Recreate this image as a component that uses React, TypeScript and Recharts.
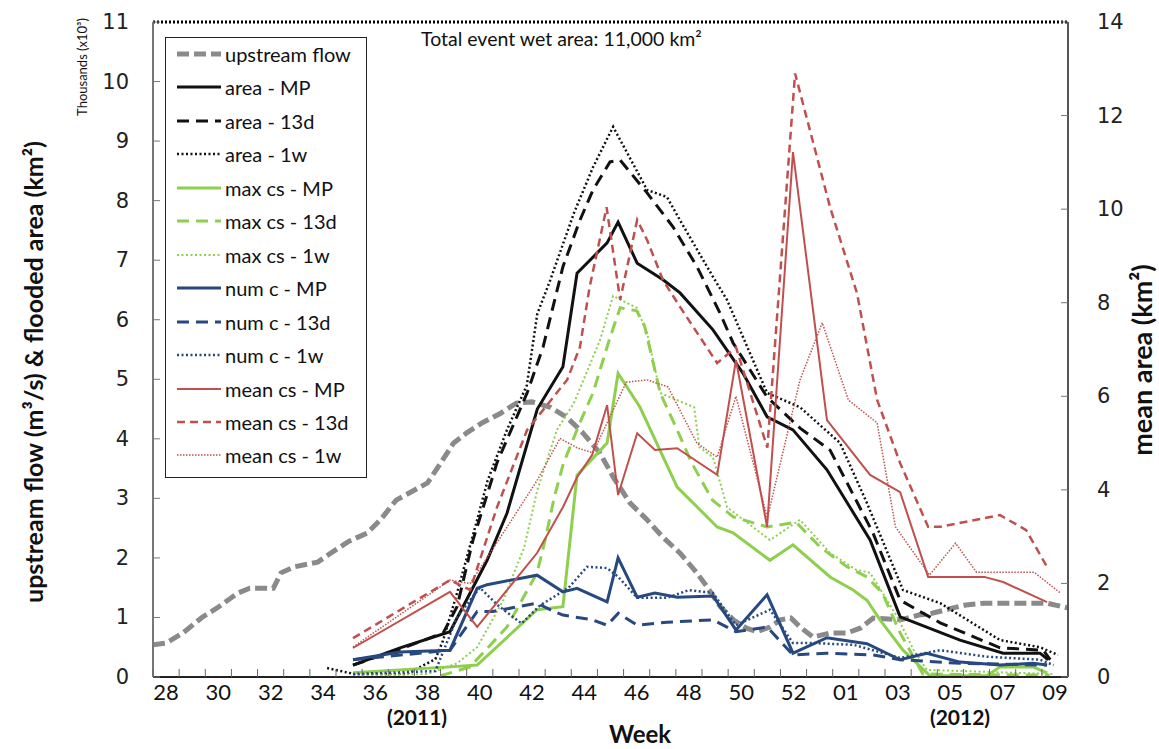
import React from 'react';
import { LineChart, Line, XAxis, YAxis, ReferenceLine } from 'recharts';

// x is counted in weeks: 0 = week 28 (2011) ... 34 = week 09 (2012)
const weekTicks = [0, 2, 4, 6, 8, 10, 12, 14, 16, 18, 20, 22, 24, 26, 28, 30, 32, 34];
const weekLabels = ['28', '30', '32', '34', '36', '38', '40', '42', '44', '46', '48', '50', '52', '01', '03', '05', '07', '09'];
const weekMarks = Array.from({ length: 35 }, (_, i) => i);
const leftTicks = [0, 1, 2, 3, 4, 5, 6, 7, 8, 9, 10, 11];
const rightTicks = [0, 2, 4, 6, 8, 10, 12, 14];
const totalWetArea = 11; // thousands km2

// [week, value] — left axis in thousands, mean cs on the right axis (km2)
const upstreamFlow = [[-0.5, 0.54], [0, 0.57], [0.65, 0.74], [1.37, 1.0], [1.95, 1.16], [2.75, 1.41], [3.2, 1.49], [4.1, 1.49], [4.4, 1.75], [4.9, 1.85], [5.8, 1.93], [6.3, 2.08], [7, 2.28], [7.7, 2.42], [8.2, 2.64], [8.8, 2.97], [9.3, 3.09], [10, 3.26], [10.5, 3.59], [11, 3.93], [11.5, 4.1], [12.1, 4.27], [12.8, 4.43], [13.4, 4.6], [14, 4.62], [14.7, 4.53], [15.3, 4.37], [15.9, 4.12], [16.6, 3.76], [17.1, 3.36], [17.75, 2.92], [18.4, 2.64], [19, 2.35], [19.66, 2.08], [20.3, 1.75], [20.7, 1.51], [21.2, 1.18], [21.7, 0.96], [22.2, 0.82], [22.6, 0.76], [23.1, 0.84], [23.5, 0.96], [23.9, 0.99], [24.25, 0.84], [24.75, 0.67], [25.4, 0.74], [26.05, 0.74], [26.55, 0.82], [27.05, 0.99], [28.1, 0.96], [28.8, 1.04], [29.3, 1.07], [30.1, 1.16], [30.6, 1.21], [31.3, 1.24], [33.7, 1.24], [34.5, 1.16]];

const areaMP = [[7.15, 0.2], [8.95, 0.49], [10.86, 0.76], [12.28, 1.96], [13.04, 2.75], [14.2, 4.5], [15.18, 5.21], [15.72, 6.78], [16.87, 7.29], [17.29, 7.64], [18.02, 6.95], [19.01, 6.67], [19.66, 6.45], [20.92, 5.83], [22.07, 5.1], [22.99, 4.37], [23.98, 4.15], [25.28, 3.48], [26.93, 2.3], [28.08, 1.01], [30.37, 0.62], [32.02, 0.4], [33.43, 0.4], [33.74, 0.29]];
const area13d = [[7.15, 0.2], [8.95, 0.47], [10.6, 0.74], [11.13, 1.18], [11.74, 2.3], [12.66, 3.6], [13.81, 4.77], [14.42, 5.54], [15.18, 6.89], [15.83, 7.67], [16.33, 8.18], [16.98, 8.65], [17.37, 8.68], [18.4, 8.13], [19.39, 7.56], [20.31, 6.89], [21.19, 6.11], [21.69, 5.61], [22.99, 4.7], [24.25, 4.18], [25.4, 3.81], [26.05, 3.26], [27.04, 2.42], [28.08, 1.29], [29.61, 0.91], [31.9, 0.49], [33.55, 0.45], [33.82, 0.29]];
const area1w = [[6.16, 0.15], [7.2, 0.05], [9.2, 0.05], [10.3, 0.3], [10.6, 0.62], [11.13, 1.41], [11.9, 2.64], [12.3, 3.3], [13.04, 4.15], [13.8, 4.9], [14.2, 6.1], [14.7, 6.67], [15.6, 7.79], [16.33, 8.56], [17.1, 9.24], [18.4, 8.18], [19.16, 8.06], [19.66, 7.67], [20.92, 6.72], [21.46, 6.33], [22.99, 4.77], [24.25, 4.53], [25.78, 3.93], [26.81, 2.92], [28.19, 1.46], [29.61, 1.24], [31.9, 0.62], [33.43, 0.5], [34.12, 0.37]];

const maxcsMP = [[7.15, 0.07], [10.86, 0.17], [11.9, 0.2], [14.19, 1.13], [15.18, 1.18], [15.72, 3.39], [16.87, 3.93], [17.29, 5.1], [18.13, 4.53], [19.55, 3.19], [21.08, 2.52], [21.69, 2.42], [23.1, 1.96], [23.98, 2.22], [25.4, 1.68], [26.28, 1.46], [26.81, 1.29], [27.31, 0.96], [28.19, 0.45], [29.22, 0.02], [31.4, 0.02], [31.9, 0.17], [33.16, 0.17], [33.7, 0.07]];
const maxcs13d = [[10.5, 0.02], [11.63, 0.17], [13.04, 0.84], [14.19, 1.75], [14.5, 2.3], [14.85, 3.02], [15.2, 3.59], [15.83, 4.27], [16.33, 4.77], [16.98, 5.7], [17.37, 6.2], [18.0, 6.15], [18.3, 5.9], [18.9, 4.77], [19.6, 4.1], [20.1, 3.6], [20.9, 2.97], [21.7, 2.69], [22.99, 2.52], [24.1, 2.6], [25.02, 2.18], [26.05, 1.85], [26.81, 1.68], [27.4, 1.41], [28.08, 0.74], [28.95, 0.05], [33.8, 0.03]];
const maxcs1w = [[7.15, 0.03], [10.0, 0.05], [11.13, 0.23], [11.9, 0.5], [12.9, 1.29], [13.7, 2.18], [14.2, 3.14], [14.95, 4.15], [15.6, 4.6], [16.6, 5.66], [17.1, 6.4], [18.0, 6.2], [18.4, 5.78], [18.9, 4.77], [19.55, 4.65], [20.2, 4.53], [20.4, 3.86], [20.92, 3.69], [21.46, 2.85], [23.1, 2.3], [24.25, 2.64], [25.4, 2.08], [26.4, 1.8], [26.93, 1.75], [27.97, 1.01], [28.6, 0.45], [29.1, 0.12], [33.9, 0.05]];

const numcMP = [[7.15, 0.29], [8.95, 0.42], [10.86, 0.45], [11.9, 1.49], [12.28, 1.55], [14.19, 1.71], [15.18, 1.43], [15.72, 1.49], [16.87, 1.26], [17.29, 2.0], [18.02, 1.34], [18.7, 1.41], [19.55, 1.34], [20.92, 1.36], [21.8, 0.79], [22.99, 1.38], [23.98, 0.4], [25.28, 0.66], [26.81, 0.56], [28.08, 0.29], [29.1, 0.4], [30.37, 0.25], [31.9, 0.2], [33.16, 0.23], [33.7, 0.2]];
const numc13d = [[7.15, 0.29], [10.86, 0.45], [11.9, 1.1], [12.5, 1.1], [14.19, 1.24], [14.69, 1.13], [15.18, 1.04], [16.3, 0.96], [16.87, 0.87], [17.3, 1.07], [18.02, 0.87], [19.16, 0.92], [20.92, 0.96], [21.8, 0.76], [22.99, 0.84], [23.98, 0.37], [25.28, 0.4], [27.04, 0.37], [28.08, 0.29], [30.37, 0.23], [33.7, 0.2]];
const numc1w = [[7.15, 0.05], [10.3, 0.1], [11.13, 1.0], [12.0, 1.5], [12.7, 1.2], [13.6, 0.9], [14.3, 1.2], [15.4, 1.5], [16.1, 1.85], [16.87, 1.83], [17.3, 1.68], [18.02, 1.33], [19.16, 1.33], [20.0, 1.46], [20.92, 1.41], [21.8, 0.87], [23.1, 1.13], [23.98, 0.57], [24.75, 0.57], [26.3, 0.54], [27.04, 0.45], [28.08, 0.32], [29.61, 0.45], [31.4, 0.34], [33.43, 0.29], [33.95, 0.2]];

const meancsMP = [[7.15, 0.62], [10.86, 1.82], [11.9, 1.07], [14.19, 2.65], [15.18, 3.63], [15.72, 4.27], [16.3, 4.75], [16.87, 5.81], [17.29, 3.89], [18.02, 5.21], [18.7, 4.85], [19.55, 4.89], [21.08, 4.32], [21.8, 6.77], [22.99, 3.21], [23.98, 11.22], [25.28, 5.49], [26.93, 4.32], [28.08, 3.95], [29.15, 2.14], [31.3, 2.14], [32.02, 2.03], [33.7, 1.6]];
const meancs13d = [[7.15, 0.83], [10.86, 2.07], [11.63, 1.86], [12.66, 3.63], [13.81, 5.28], [15.34, 6.35], [15.83, 7.05], [16.2, 8.33], [16.85, 10.04], [17.37, 8.06], [18.02, 9.77], [18.4, 9.34], [19.01, 8.48], [19.66, 7.91], [21.08, 6.71], [21.8, 7.05], [23.0, 4.9], [24.06, 12.9], [25.4, 10.04], [26.43, 8.2], [27.2, 5.92], [28.08, 4.57], [29.15, 3.21], [29.61, 3.21], [31.9, 3.46], [32.9, 3.14], [33.7, 2.35]];
const meancs1w = [[7.15, 0.64], [10.86, 2.07], [11.63, 2.0], [13.04, 3.2], [14.19, 4.2], [15.07, 5.1], [15.72, 4.9], [16.33, 4.79], [17.6, 6.3], [18.4, 6.35], [19.2, 6.2], [20.3, 5.0], [21.08, 4.7], [21.8, 6.0], [23.0, 3.4], [24.25, 6.35], [25.1, 7.57], [26.1, 5.92], [27.2, 5.43], [27.9, 3.21], [29.2, 2.18], [30.2, 2.86], [31.0, 2.24], [33.2, 2.24], [34.2, 1.8]];

const pts = (a: number[][]) => a.map(([t, v]) => ({ t, v }));

const BLACK = '#111';
const GREEN = '#8fcf4e';
const BLUE = '#27497f';
const RED = '#c0504d';
const GREY = '#8a8a8a';

const series = [
  { key: 'flow', name: 'upstream flow', data: upstreamFlow, axis: 'l', color: GREY, width: 5, dash: '12 5' },
  { key: 'aMP', name: 'area - MP', data: areaMP, axis: 'l', color: BLACK, width: 3, dash: undefined },
  { key: 'a13', name: 'area - 13d', data: area13d, axis: 'l', color: BLACK, width: 3, dash: '12 7' },
  { key: 'a1w', name: 'area - 1w', data: area1w, axis: 'l', color: BLACK, width: 2.5, dash: '2 2.5' },
  { key: 'mMP', name: 'max cs - MP', data: maxcsMP, axis: 'l', color: GREEN, width: 3, dash: undefined },
  { key: 'm13', name: 'max cs - 13d', data: maxcs13d, axis: 'l', color: GREEN, width: 3, dash: '12 7' },
  { key: 'm1w', name: 'max cs - 1w', data: maxcs1w, axis: 'l', color: GREEN, width: 2, dash: '2 2.5' },
  { key: 'nMP', name: 'num c - MP', data: numcMP, axis: 'l', color: BLUE, width: 3, dash: undefined },
  { key: 'n13', name: 'num c - 13d', data: numc13d, axis: 'l', color: BLUE, width: 3, dash: '12 7' },
  { key: 'n1w', name: 'num c - 1w', data: numc1w, axis: 'l', color: BLUE, width: 2.5, dash: '2 2.5' },
  { key: 'cMP', name: 'mean cs - MP', data: meancsMP, axis: 'r', color: RED, width: 2, dash: undefined },
  { key: 'c13', name: 'mean cs - 13d', data: meancs13d, axis: 'r', color: RED, width: 2.5, dash: '8 5' },
  { key: 'c1w', name: 'mean cs - 1w', data: meancs1w, axis: 'r', color: RED, width: 1.5, dash: '1.5 1.5' },
];

const W = 1159;
const H = 749;
const M = { top: 22, right: 31, bottom: 42, left: 93 };
const YW = 60;
const plotW = W - M.left - M.right - 2 * YW;
const half = plotW / 35 / 2;

const tickFont = { fontFamily: 'DejaVu Sans', fontSize: 21, fill: '#222' };

function XTick(props: any) {
  const { x, y, payload } = props;
  const i = weekTicks.indexOf(payload.value);
  return (
    <g>
      <line x1={x - half} x2={x - half} y1={y} y2={y - 8} stroke="#666" strokeWidth={1} />
      {i >= 0 && (
        <text x={x} y={y + 14} textAnchor="middle" dominantBaseline="central"
          style={{ fontFamily: 'Liberation Sans Narrow, Lato', fontSize: 22, fill: '#111' }}>
          {weekLabels[i]}
        </text>
      )}
    </g>
  );
}

function LeftTick(props: any) {
  const { x, y, payload } = props;
  return (
    <g>
      <line x1={x} x2={x + 7} y1={y} y2={y} stroke="#777" />
      <text x={x - 24} y={y} textAnchor="end" dominantBaseline="central" style={tickFont}>{payload.value}</text>
    </g>
  );
}

function RightTick(props: any) {
  const { x, y, payload } = props;
  return (
    <g>
      <line x1={x} x2={x - 7} y1={y} y2={y} stroke="#777" />
      <text x={x + 29} y={y} textAnchor="start" dominantBaseline="central" style={tickFont}>{payload.value}</text>
    </g>
  );
}

function VText({ x, y, size, bold, children }: any) {
  return (
    <div style={{
      position: 'absolute', left: x, top: y, transform: 'translate(-50%, -50%) rotate(-90deg)',
      whiteSpace: 'nowrap', fontSize: size, fontWeight: bold ? 700 : 400, color: '#111', lineHeight: 1.1,
    }}>{children}</div>
  );
}

function HText({ x, y, size, bold, children }: any) {
  return (
    <div style={{
      position: 'absolute', left: x, top: y, transform: 'translate(-50%, -50%)',
      whiteSpace: 'nowrap', fontSize: size, fontWeight: bold ? 700 : 400, color: '#111', lineHeight: 1.1,
    }}>{children}</div>
  );
}

export default function App() {
  return (
    <div style={{ position: 'absolute', left: 0, top: 0, width: W, height: H, background: '#fff', fontFamily: 'Lato, "Open Sans", sans-serif', overflow: 'hidden' }}>
      <LineChart width={W} height={H} margin={M}>
        <XAxis xAxisId="x" type="number" dataKey="t" domain={[-0.5, 34.5]} ticks={weekMarks} interval={0}
          allowDataOverflow tick={(p: any) => <XTick {...p} />} tickLine={false} tickSize={0} tickMargin={0}
          axisLine={{ stroke: '#222', strokeWidth: 2 }} height={30} />
        <YAxis yAxisId="l" orientation="left" domain={[0, 11]} ticks={leftTicks} interval={0} width={YW}
          tick={(p: any) => <LeftTick {...p} />} tickLine={false} tickSize={0} tickMargin={0}
          axisLine={{ stroke: '#777', strokeWidth: 2 }} allowDataOverflow />
        <YAxis yAxisId="r" orientation="right" domain={[0, 14]} ticks={rightTicks} interval={0} width={YW}
          tick={(p: any) => <RightTick {...p} />} tickLine={false} tickSize={0} tickMargin={0}
          axisLine={{ stroke: '#555', strokeWidth: 2 }} allowDataOverflow />
        <ReferenceLine xAxisId="x" yAxisId="l" y={totalWetArea} stroke="#000" strokeWidth={3} strokeDasharray="2 2" />
        {series.map((s) => (
          <Line key={s.key} xAxisId="x" yAxisId={s.axis} data={pts(s.data)} dataKey="v" name={s.name}
            type="linear" stroke={s.color} strokeWidth={s.width} strokeDasharray={s.dash}
            dot={false} activeDot={false} isAnimationActive={false} />
        ))}
      </LineChart>

      <VText x={34} y={372} size={25} bold>upstream flow (m³/s) &amp; flooded area (km²)</VText>
      <VText x={82} y={67} size={13}>Thousands (x10³)</VText>
      <VText x={1142} y={360} size={27} bold>mean area (km²)</VText>
      <HText x={640} y={734} size={24} bold>Week</HText>
      <HText x={417} y={717} size={21} bold>(2011)</HText>
      <HText x={960} y={717} size={21} bold>(2012)</HText>
      <div style={{ position: 'absolute', left: 421, top: 27, fontSize: 19.5, color: '#111', whiteSpace: 'nowrap' }}>
        Total event wet area: 11,000 km²
      </div>

      <div style={{
        position: 'absolute', left: 165, top: 37, width: 202, height: 441, boxSizing: 'border-box',
        border: '1.5px solid #222', background: '#fff',
      }}>
        {series.map((s, i) => (
          <div key={s.key} style={{
            position: 'absolute', left: 0, top: 16 + i * 33.45 - 12, height: 24,
            display: 'flex', alignItems: 'center',
          }}>
            <svg width={44} height={10} style={{ marginLeft: 11 }}>
              <line x1={0} x2={44} y1={5} y2={5} stroke={s.color} strokeWidth={s.width} strokeDasharray={s.dash} />
            </svg>
            <span style={{ marginLeft: 4, fontSize: 20, color: '#111', whiteSpace: 'nowrap' }}>{s.name}</span>
          </div>
        ))}
      </div>
    </div>
  );
}
